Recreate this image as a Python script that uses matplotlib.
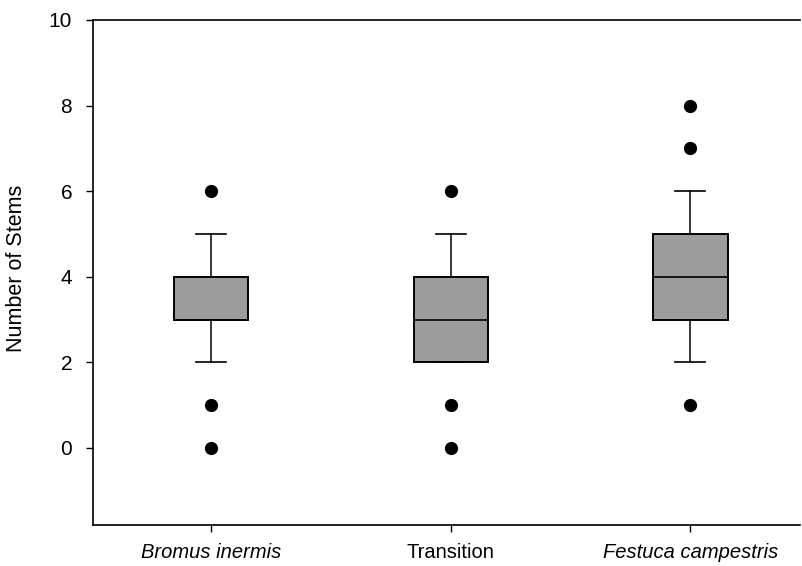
import matplotlib
matplotlib.use("Agg")
import matplotlib.pyplot as plt

categories = ["Bromus inermis", "Transition", "Festuca campestris"]
q1 = [3, 2, 3]
medians = [3, 3, 4]
q3 = [4, 4, 5]
whisker_low = [2, 2, 2]
whisker_high = [5, 5, 6]
outliers = [[6, 1, 0], [6, 1, 0], [8, 7, 1]]
italic = [True, False, True]

plt.rcParams['font.family'] = ['Liberation Sans', 'DejaVu Sans']

fig = plt.figure(figsize=(8.02, 5.66), dpi=100)
ax = fig.add_axes([0.116, 0.0724, 0.882, 0.8923])

stats = []
for i, name in enumerate(categories):
    stats.append(dict(label=name, q1=q1[i], med=medians[i], q3=q3[i],
                      whislo=whisker_low[i], whishi=whisker_high[i],
                      fliers=outliers[i]))

ax.bxp(stats, positions=[1, 2, 3], widths=0.31, patch_artist=True,
       boxprops=dict(facecolor='#9c9c9c', edgecolor='black', linewidth=1.4),
       medianprops=dict(color='black', linewidth=1.2),
       whiskerprops=dict(color='black', linewidth=1.1),
       capprops=dict(color='black', linewidth=1.2),
       capwidths=0.125,
       flierprops=dict(marker='o', markerfacecolor='black', markeredgecolor='black',
                       markersize=8.5, linestyle='none'))

ax.set_xlim(0.507, 3.459)
ax.set_ylim(-1.8, 10)
ax.set_yticks([0, 2, 4, 6, 8, 10])
ax.set_xticks([1, 2, 3])
ax.set_xticklabels(categories)
for lbl, it in zip(ax.get_xticklabels(), italic):
    lbl.set_fontstyle('italic' if it else 'normal')
ax.tick_params(axis='both', direction='out', length=5, width=1, colors='black')
ax.tick_params(axis='x', pad=8, labelsize=14.5)
ax.tick_params(axis='y', pad=10, labelsize=15)
ax.set_ylabel("Number of Stems", fontsize=15.5)
ax.yaxis.set_label_coords(-0.094, 0.509)

ax.spines['right'].set_visible(False)
for s in ['left', 'bottom', 'top']:
    ax.spines[s].set_linewidth(1.2)
    ax.spines[s].set_color('black')

fig.savefig("out.png", dpi=100)
